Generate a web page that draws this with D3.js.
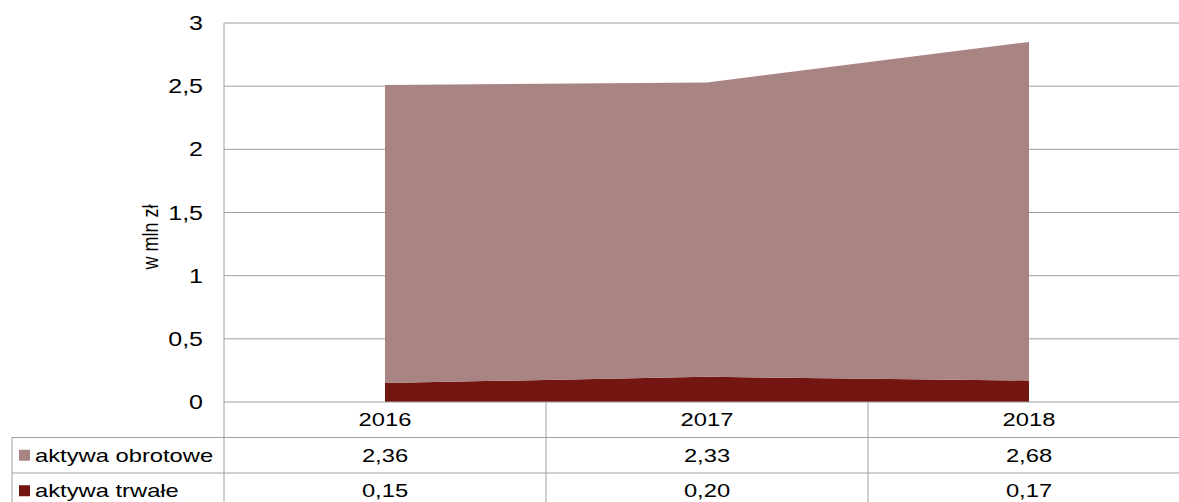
<!DOCTYPE html>
<html>
<head>
<meta charset="utf-8">
<script src="https://cdn.jsdelivr.net/npm/d3@7"></script>
<style>
  body { margin: 0; background: #fff; }
  svg { display: block; font-family: "Liberation Sans", Arial, sans-serif; }
</style>
</head>
<body>
<svg id="chart"></svg>
<script>
const years = ['2016', '2017', '2018'];
const seriesNames = ['aktywa trwałe', 'aktywa obrotowe'];
const trwale = [0.15, 0.20, 0.17];
const obrotowe = [2.36, 2.33, 2.68];
const yTicks = [0, 0.5, 1, 1.5, 2, 2.5, 3];
const colors = { 'aktywa trwałe': '#731510', 'aktywa obrotowe': '#a88483' };

const width = 1179, height = 502;
const svg = d3.select('#chart').attr('width', width).attr('height', height);

const plotLeft = 224, plotTop = 23, plotBottom = 402;
const colW = 322;
const rowH = 35.5;
const gridColor = '#a0a0a0';
const stretch = 1.25; // text in the original is a bit wide

const x = d3.scaleBand().domain(years).range([plotLeft, plotLeft + colW * years.length]);
const y = d3.scaleLinear().domain([0, 3]).range([plotBottom, plotTop]);

const fmt = v => v.toFixed(2).replace('.', ',');
const fmtTick = v => String(v).replace('.', ',');

const rows = years.map((yr, i) => ({ year: yr, 'aktywa trwałe': trwale[i], 'aktywa obrotowe': obrotowe[i] }));
const stack = d3.stack().keys(seriesNames);
const layers = stack(rows);

// gridlines
svg.append('g').selectAll('line')
  .data(yTicks.filter(t => t > 0))
  .enter().append('line')
  .attr('x1', plotLeft).attr('x2', width)
  .attr('y1', d => y(d)).attr('y2', d => y(d))
  .attr('stroke', gridColor).attr('stroke-width', 1);

// areas
const area = d3.area()
  .x(d => x(d.data.year) + x.bandwidth() / 2)
  .y0(d => y(d[0]))
  .y1(d => y(d[1]));

svg.append('g').selectAll('path')
  .data(layers)
  .enter().append('path')
  .attr('d', area)
  .attr('fill', d => colors[d.key]);

// y axis labels
svg.append('g').selectAll('text')
  .data(yTicks)
  .enter().append('text')
  .attr('transform', d => `translate(203, ${y(d)}) scale(${stretch},1)`)
  .attr('dy', '0.35em')
  .attr('text-anchor', 'end')
  .style('font-size', '20px')
  .style('fill', '#000')
  .text(fmtTick);

// y axis title
svg.append('text')
  .attr('transform', `translate(158, 237) scale(${stretch},1) rotate(-90)`)
  .attr('text-anchor', 'middle')
  .style('font-size', '18px')
  .text('w mln zł');

// table lines
const tbl = svg.append('g').attr('stroke', gridColor).attr('stroke-width', 1);
tbl.append('line').attr('x1', plotLeft).attr('x2', plotLeft).attr('y1', plotTop).attr('y2', height);
tbl.append('line').attr('x1', plotLeft).attr('x2', width).attr('y1', plotBottom).attr('y2', plotBottom);
[1, 2].forEach(r => {
  tbl.append('line').attr('x1', 12).attr('x2', width)
    .attr('y1', plotBottom + rowH * r).attr('y2', plotBottom + rowH * r);
});
tbl.append('line').attr('x1', 12).attr('x2', 12).attr('y1', plotBottom + rowH).attr('y2', height);
tbl.selectAll('.sep')
  .data(years.slice(1))
  .enter().append('line')
  .attr('class', 'sep')
  .attr('x1', d => x(d)).attr('x2', d => x(d))
  .attr('y1', plotBottom).attr('y2', height);

// header years
svg.append('g').selectAll('text')
  .data(years)
  .enter().append('text')
  .attr('transform', d => `translate(${x(d) + x.bandwidth() / 2}, ${plotBottom + rowH / 2}) scale(${stretch},1)`)
  .attr('dy', '0.35em')
  .attr('text-anchor', 'middle')
  .style('font-size', '19px')
  .text(d => d);

// table rows
const tableRows = [
  { name: 'aktywa obrotowe', values: obrotowe },
  { name: 'aktywa trwałe', values: trwale }
];

const rowG = svg.append('g').selectAll('g')
  .data(tableRows)
  .enter().append('g')
  .attr('transform', (d, i) => `translate(0, ${plotBottom + rowH * (i + 1)})`);

rowG.append('rect')
  .attr('x', 19).attr('y', rowH / 2 - 5.5)
  .attr('width', 11).attr('height', 11)
  .attr('fill', d => colors[d.name]);

rowG.append('text')
  .attr('transform', `translate(35, ${rowH / 2}) scale(${stretch},1)`)
  .attr('dy', '0.35em')
  .style('font-size', '19px')
  .text(d => d.name);

rowG.selectAll('.val')
  .data(d => d.values.map((v, i) => ({ v, year: years[i] })))
  .enter().append('text')
  .attr('class', 'val')
  .attr('transform', d => `translate(${x(d.year) + x.bandwidth() / 2}, ${rowH / 2}) scale(${stretch},1)`)
  .attr('dy', '0.35em')
  .attr('text-anchor', 'middle')
  .style('font-size', '19px')
  .text(d => fmt(d.v));
</script>
</body>
</html>
